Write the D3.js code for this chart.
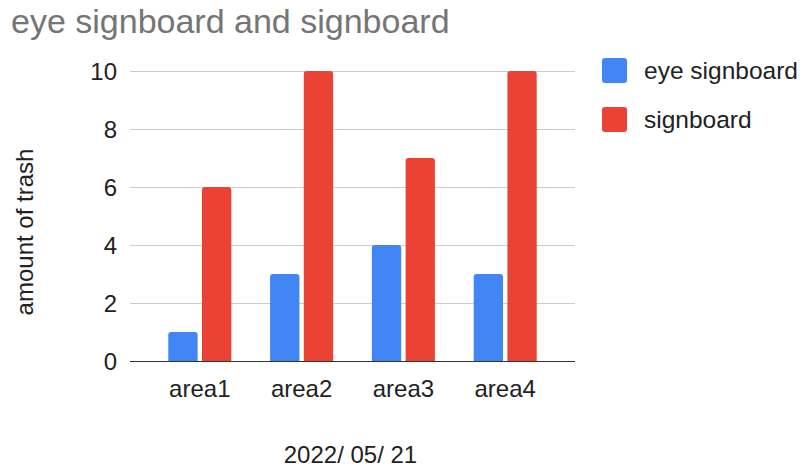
<!DOCTYPE html>
<html>
<head>
<meta charset="utf-8">
<script src="https://cdn.jsdelivr.net/npm/d3@7"></script>
<style>
  html, body { margin: 0; padding: 0; background: #fff; }
  svg { display: block; font-family: "Liberation Sans", Arial, sans-serif; }
</style>
</head>
<body>
<svg id="chart" width="804" height="467"></svg>
<script>
// Chart data
const categories = ["area1", "area2", "area3", "area4"];
const seriesNames = ["eye signboard", "signboard"];
const eyeSignboard = [1, 3, 4, 3];
const signboard = [6, 10, 7, 10];
const yTicks = [0, 2, 4, 6, 8, 10];
const colors = ["#4285F4", "#EA4335"];

const seriesValues = [eyeSignboard, signboard];
const rows = categories.map((c, i) => ({
  category: c,
  values: seriesNames.map((s, k) => ({ series: s, k, value: seriesValues[k][i] }))
}));

const svg = d3.select("#chart");
const plot = { left: 130, right: 575, top: 71, bottom: 361 };

const x = d3.scaleBand()
  .domain(categories)
  .range([plot.left, plot.right])
  .paddingInner(0.381)
  .paddingOuter(0.376);

const xSub = d3.scaleBand()
  .domain(seriesNames)
  .range([0, x.bandwidth()])
  .paddingInner(0.13);

const y = d3.scaleLinear().domain([0, 10]).range([plot.bottom, plot.top]);

// Title
svg.append("text")
  .attr("x", 11).attr("y", 33)
  .attr("font-size", 34)
  .attr("fill", "#757575")
  .text("eye signboard and signboard");

// Gridlines
svg.append("g")
  .selectAll("line")
  .data(yTicks.filter(d => d !== 0))
  .join("line")
  .attr("x1", plot.left).attr("x2", plot.right)
  .attr("y1", d => Math.round(y(d)) + 0.5).attr("y2", d => Math.round(y(d)) + 0.5)
  .attr("stroke", "#cccccc").attr("stroke-width", 1);

// Y axis tick labels
const yAxis = svg.append("g")
  .attr("transform", `translate(${plot.left - 13},0)`)
  .call(d3.axisLeft(y).tickValues(yTicks).tickSize(0).tickPadding(0).tickFormat(d3.format("d")));
yAxis.select(".domain").remove();
yAxis.selectAll("text")
  .attr("font-size", 24)
  .attr("font-family", "Liberation Sans, Arial, sans-serif")
  .attr("fill", "#222")
  .attr("dy", "0.35em");

// Bars with rounded top corners
function barPath(x0, w, yTop, yBase, r) {
  r = Math.min(r, w / 2, (yBase - yTop));
  return `M${x0},${yBase}V${yTop + r}Q${x0},${yTop} ${x0 + r},${yTop}` +
         `H${x0 + w - r}Q${x0 + w},${yTop} ${x0 + w},${yTop + r}V${yBase}Z`;
}

const groups = svg.append("g")
  .selectAll("g")
  .data(rows)
  .join("g")
  .attr("transform", d => `translate(${x(d.category)},0)`);

groups.selectAll("path")
  .data(d => d.values)
  .join("path")
  .attr("d", d => barPath(xSub(d.series), xSub.bandwidth(), y(d.value), y(0), 3))
  .attr("fill", d => colors[d.k]);

// Baseline
svg.append("line")
  .attr("x1", plot.left).attr("x2", plot.right)
  .attr("y1", plot.bottom + 0.5).attr("y2", plot.bottom + 0.5)
  .attr("stroke", "#333").attr("stroke-width", 1.2);

// X axis labels
const xAxis = svg.append("g")
  .attr("transform", `translate(0,${plot.bottom})`)
  .call(d3.axisBottom(x).tickSize(0).tickPadding(0));
xAxis.select(".domain").remove();
xAxis.selectAll("text")
  .attr("font-size", 24)
  .attr("font-family", "Liberation Sans, Arial, sans-serif")
  .attr("fill", "#222")
  .attr("dy", null)
  .attr("y", 36);

// Axis titles
svg.append("text")
  .attr("x", (plot.left + plot.right) / 2 - 2).attr("y", 463)
  .attr("text-anchor", "middle")
  .attr("font-size", 24)
  .attr("fill", "#222")
  .text("2022/ 05/ 21");

svg.append("text")
  .attr("transform", `translate(33,232) rotate(-90)`)
  .attr("text-anchor", "middle")
  .attr("font-size", 24)
  .attr("fill", "#222")
  .text("amount of trash");

// Legend
const legend = svg.append("g")
  .selectAll("g")
  .data(seriesNames)
  .join("g")
  .attr("transform", (d, i) => `translate(602,${58 + i * 49})`);

legend.append("rect")
  .attr("width", 25).attr("height", 25)
  .attr("rx", 3)
  .attr("fill", (d, i) => colors[i]);

legend.append("text")
  .attr("x", 42).attr("y", 12.5)
  .attr("dy", "0.35em")
  .attr("font-size", 24.5)
  .attr("fill", "#222")
  .text(d => d);
</script>
</body>
</html>
